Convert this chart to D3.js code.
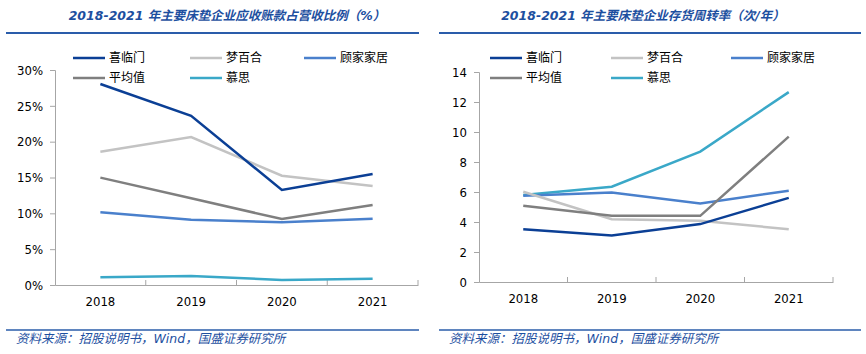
<!DOCTYPE html>
<html>
<head>
<meta charset="utf-8">
<script src="https://cdn.jsdelivr.net/npm/d3@7"></script>
<style>
  body { margin: 0; background: #fff; }
  svg { display: block; }
  .tick text { font-family: "DejaVu Sans Condensed", "DejaVu Sans", sans-serif; font-size: 13px; fill: #000; }
</style>
</head>
<body>
<div id="plot"></div>
<script>
// categories + series
var years = ["2018", "2019", "2020", "2021"];
var names = ["喜临门", "梦百合", "顾家家居", "平均值", "慕思"];
var colors = ["#0b3f95", "#c3c3c3", "#4a80cc", "#7f7f7f", "#3aa8c8"];

// 应收账款占营收比例
var arXilinmen = [0.2805, 0.236, 0.1326, 0.155];
var arMengbaihe = [0.186, 0.2065, 0.1525, 0.138];
var arGujia = [0.1014, 0.091, 0.0875, 0.0925];
var arAvg = [0.1498, 0.121, 0.092, 0.1116];
var arMusi = [0.0107, 0.0125, 0.007, 0.0088];
var arTicks = [0, 0.05, 0.10, 0.15, 0.20, 0.25, 0.30];

// 存货周转率
var invXilinmen = [3.52, 3.1, 3.86, 5.61];
var invMengbaihe = [6.02, 4.19, 4.08, 3.52];
var invGujia = [5.75, 5.97, 5.24, 6.08];
var invAvg = [5.08, 4.41, 4.41, 9.69];
var invMusi = [5.8, 6.35, 8.69, 12.66];
var invTicks = [0, 2, 4, 6, 8, 10, 12, 14];

var W = 866, H = 354;
var titleBlue = "#1d4f9f";

var svg = d3.select("#plot").append("svg")
  .attr("width", W)
  .attr("height", H);

function drawPanel(p) {
  var g = svg.append("g");

  // title + rule
  g.append("text")
    .attr("x", p.titleX)
    .attr("y", 20)
    .attr("text-anchor", "middle")
    .style("font-family", "\"DejaVu Sans\", \"Noto Sans CJK SC\", sans-serif")
    .style("font-size", "12.5px")
    .style("font-style", "italic")
    .style("font-weight", "bold")
    .style("fill", titleBlue)
    .text(p.title);

  g.append("line")
    .attr("x1", p.ruleX[0]).attr("x2", p.ruleX[1])
    .attr("y1", 33).attr("y2", 33)
    .attr("stroke", "#2a5caa").attr("stroke-width", 2);

  var xScale = d3.scaleBand().domain(years).range(p.xRange);
  var yScale = d3.scaleLinear().domain(p.yDomain).range(p.yRange);

  // y axis
  var yAxis = d3.axisLeft(yScale).tickValues(p.ticks).tickSize(5).tickPadding(7).tickFormat(p.fmt);
  var ya = g.append("g")
    .attr("transform", "translate(" + p.xRange[0] + ",0)")
    .call(yAxis);
  ya.selectAll("path, line").attr("stroke", "#a6a6a6");

  // x axis, ticks on band edges pointing up
  var xa = g.append("g")
    .attr("transform", "translate(0," + p.yRange[0] + ")")
    .call(d3.axisBottom(xScale).tickSize(0).tickPadding(10));
  xa.select(".domain").attr("stroke", "#a6a6a6");
  xa.selectAll(".tick text").attr("dy", "0.85em");
  var edges = years.map(function(d) { return xScale(d) + xScale.bandwidth(); });
  xa.selectAll(".edge").data(edges).enter().append("line")
    .attr("x1", function(d) { return d; })
    .attr("x2", function(d) { return d; })
    .attr("y1", 0).attr("y2", -5)
    .attr("stroke", "#a6a6a6");

  var line = d3.line()
    .x(function(d, i) { return xScale(years[i]) + xScale.bandwidth() / 2; })
    .y(function(d) { return yScale(d); });

  // draw order so the dark series sits on top
  var order = [4, 2, 1, 3, 0];
  order.forEach(function(k) {
    g.append("path")
      .datum(p.series[k])
      .attr("d", line)
      .attr("fill", "none")
      .attr("stroke", colors[k])
      .attr("stroke-width", 2.5);
  });

  // legend
  names.forEach(function(n, i) {
    var lx = p.legendX[i % 3], ly = i < 3 ? 58 : 78;
    g.append("line")
      .attr("x1", lx).attr("x2", lx + 32)
      .attr("y1", ly).attr("y2", ly)
      .attr("stroke", colors[i]).attr("stroke-width", 2.5);
    g.append("text")
      .attr("x", lx + 36)
      .attr("y", ly)
      .attr("dy", "0.35em")
      .style("font-family", "\"Noto Sans CJK SC\", sans-serif")
      .style("font-size", "12px")
      .style("fill", "#000")
      .text(n);
  });

  // source line
  g.append("line")
    .attr("x1", p.ruleX[0]).attr("x2", p.ruleX[1])
    .attr("y1", 330).attr("y2", 330)
    .attr("stroke", "#2a5caa").attr("stroke-width", 1.5);
  g.append("text")
    .attr("x", p.ruleX[0] + 10)
    .attr("y", 339)
    .attr("dy", "0.35em")
    .style("font-family", "\"DejaVu Sans\", \"Noto Sans CJK SC\", sans-serif")
    .style("font-size", "12.5px")
    .style("font-style", "italic")
    .style("fill", titleBlue)
    .text("资料来源：招股说明书，Wind，国盛证券研究所");
}

drawPanel({
  title: "2018-2021 年主要床垫企业应收账款占营收比例（%）",
  titleX: 227,
  ruleX: [6, 419],
  xRange: [55, 418],
  yRange: [285, 70],
  yDomain: [0, 0.30],
  ticks: arTicks,
  fmt: d3.format(".0%"),
  legendX: [73, 190, 304],
  series: [arXilinmen, arMengbaihe, arGujia, arAvg, arMusi]
});

drawPanel({
  title: "2018-2021 年主要床垫企业存货周转率（次/年）",
  titleX: 643,
  ruleX: [439, 861],
  xRange: [479, 833],
  yRange: [282, 72],
  yDomain: [0, 14],
  ticks: invTicks,
  fmt: d3.format("d"),
  legendX: [490, 611, 731],
  series: [invXilinmen, invMengbaihe, invGujia, invAvg, invMusi]
});
</script>
</body>
</html>
